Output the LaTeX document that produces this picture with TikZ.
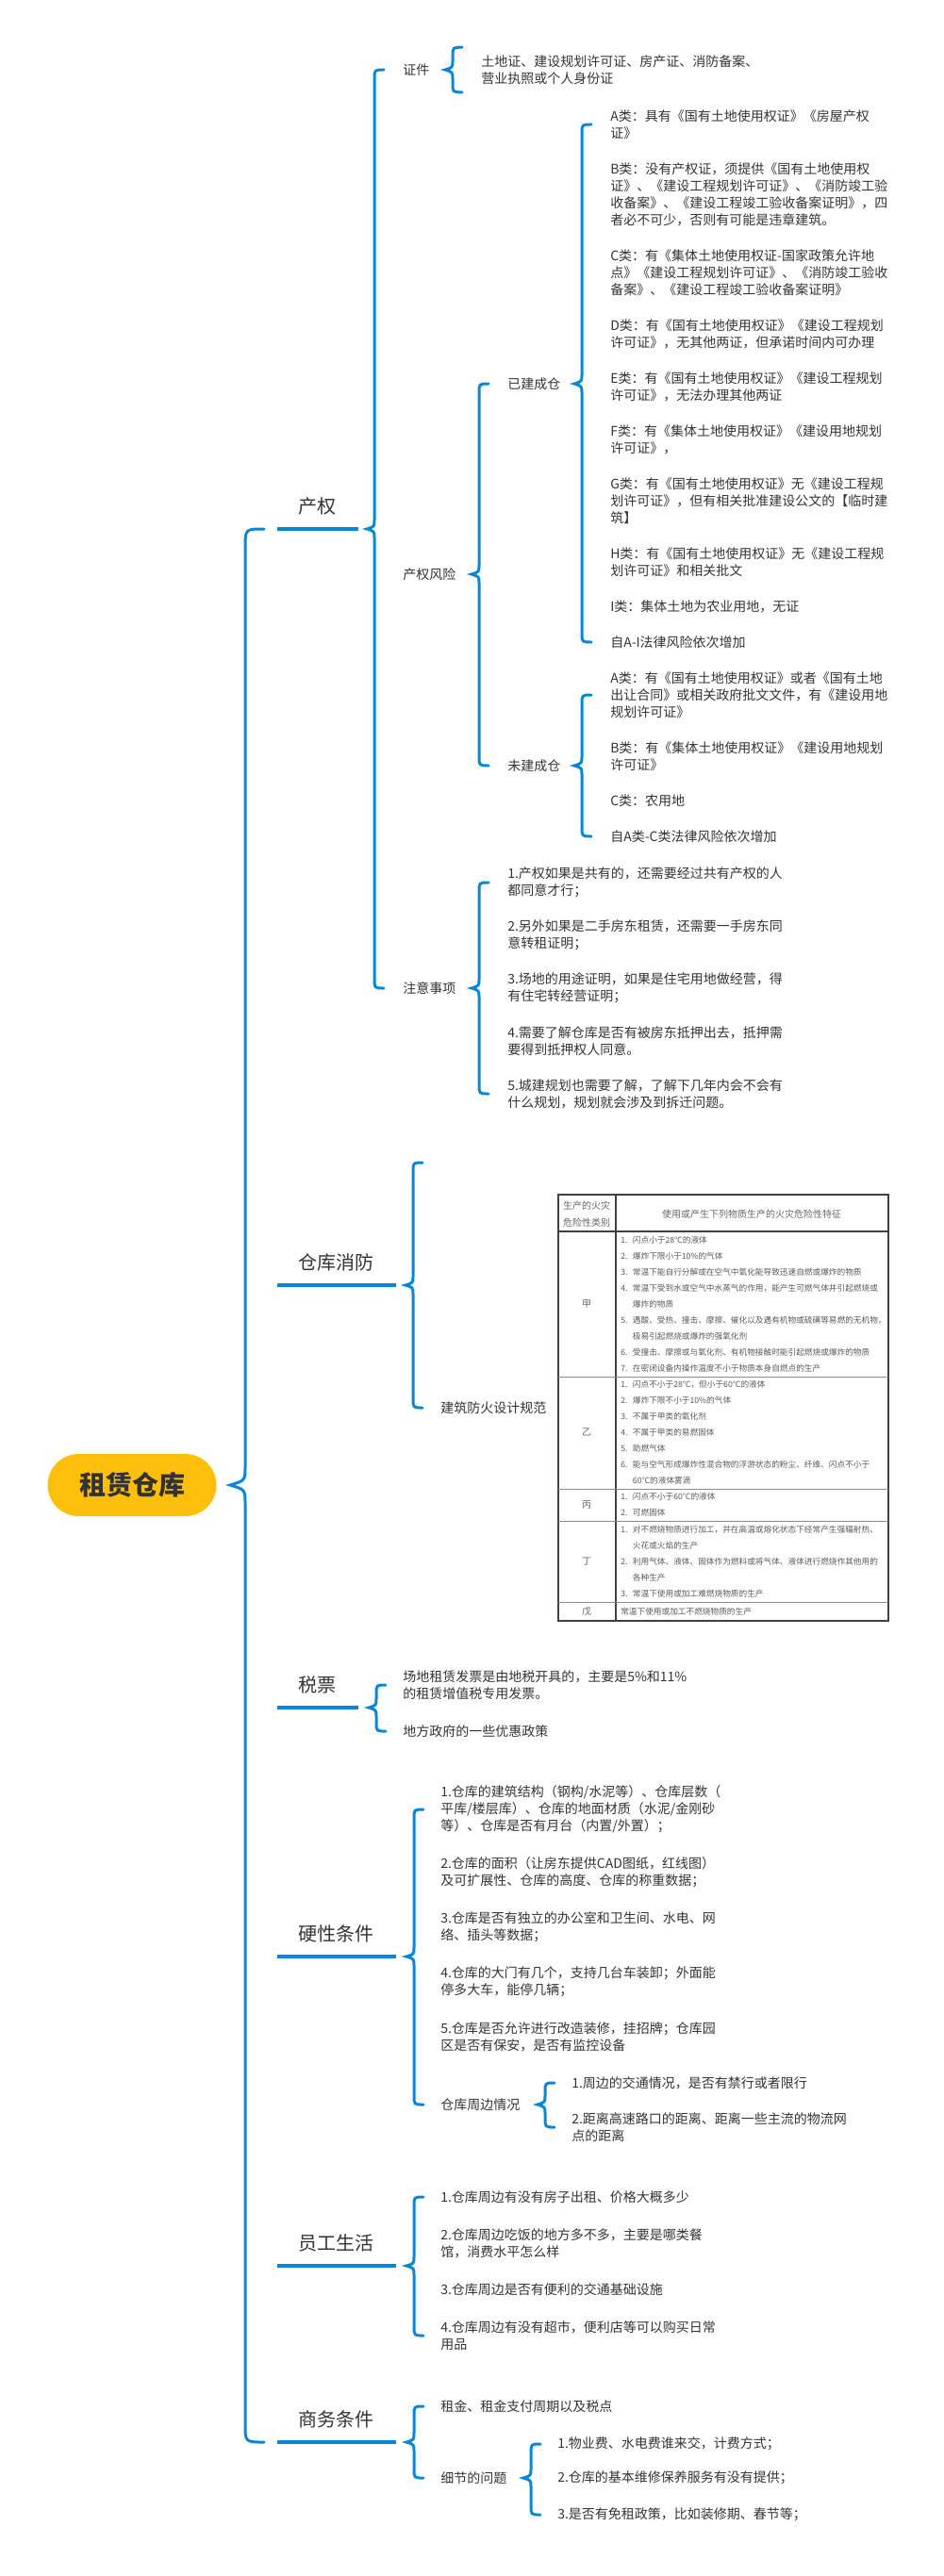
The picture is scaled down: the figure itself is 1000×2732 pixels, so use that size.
\documentclass[tikz,border=0pt]{standalone}
\usepackage{fontspec}
\setmainfont{Noto Sans CJK SC}
\usetikzlibrary{calc}
\definecolor{mmblue}{RGB}{10,134,214}
\definecolor{mmgold}{RGB}{253,191,12}
\definecolor{mmtext}{RGB}{51,51,51}

% 花括号：#2 竖线位置，#3 上端，#4 尖角，#5 下端
\newcommand{\mmbrace}[5][6pt]{%
  \draw[brace] let \p1=(#2), \p2=(#3), \p3=(#4), \p4=(#5) in
    ({\x1+1.25*#1},\y2) .. controls (\x1,\y2) .. (\x1,{\y2-1.25*#1})
    -- (\x1,{\y3+1.25*#1}) .. controls (\x1,{\y3+0.3*#1}) .. ({\x1-#1},\y3)
    .. controls (\x1,{\y3-0.3*#1}) .. (\x1,{\y3-1.25*#1})
    -- (\x1,{\y4+1.25*#1}) .. controls (\x1,\y4) .. ({\x1+1.25*#1},\y4);}
\newcommand{\tabnum}[1]{\makebox[9.5pt][l]{#1.}}

\begin{document}
\begin{tikzpicture}[
  x=0.75pt, y=-0.75pt,
  font=\fontsize{10.5pt}{13.5pt}\selectfont,
  root/.style={rounded corners=24.75pt, fill=mmgold, text=mmtext, minimum width=134.25pt, minimum height=49.5pt, inner sep=0pt, font=\fontsize{21pt}{25pt}\selectfont\bfseries},
  branch/.style={anchor=south west, inner xsep=0pt, inner ysep=10.5pt, text height=13.2pt, text depth=1.8pt, text=mmtext, font=\fontsize{15pt}{18pt}\selectfont},
  branchS/.style={branch, minimum width=64pt},
  branchL/.style={branch, minimum width=94pt},
  topic/.style={anchor=west, inner sep=0pt, align=left, text=mmtext},
  brace/.style={draw=mmblue, line width=2.25pt, line cap=round},
  uline/.style={draw=mmblue, line width=2.6pt},
  tabframe/.style={draw=black!75, line width=0.8pt},
  tabrule/.style={draw=black!45, line width=0.6pt},
  tabhead/.style={inner sep=0pt, align=center, text=black!60, font=\fontsize{7.5pt}{13.5pt}\selectfont},
  tabcell/.style={anchor=west, inner sep=0pt, align=left, text=black!65, font=\fontsize{6.5pt}{12.75pt}\selectfont}
]
\useasboundingbox (0,0) rectangle (1000,2732);

% 中心主题
\node[root] (root) at (140,1575) {租赁仓库};

% 一级分支（下划线）
\node[branchS] (prop)  at (294,561)  {产权};
\node[branchL] (fire)  at (294,1363) {仓库消防};
\node[branchS] (tax)   at (294,1811) {税票};
\node[branchL] (hard)  at (294,2075) {硬性条件};
\node[branchL] (staff) at (294,2403) {员工生活};
\node[branchL] (biz)   at (294,2590) {商务条件};
\foreach \b in {prop,fire,tax,hard,staff,biz}
  \draw[uline] (\b.south west) -- (\b.south east);

% 产权
\node[topic] (cert) at (427,74)   {证件};
\node[topic] (risk) at (427,609)  {产权风险};
\node[topic] (note) at (427,1048) {注意事项};
\node[topic, inner ysep=6pt] (certtxt) at (510,74) {土地证、建设规划许可证、房产证、消防备案、\\营业执照或个人身份证};
\node[topic] (built)   at (538,407) {已建成仓};
\node[topic] (unbuilt) at (538,812) {未建成仓};

% 已建成仓
\node[topic] (bA) at (647,132) {A类：具有《国有土地使用权证》《房屋产权\\证》};
\node[topic] (bB) at (647,206) {B类：没有产权证，须提供《国有土地使用权\\证》、《建设工程规划许可证》、《消防竣工验\\收备案》、《建设工程竣工验收备案证明》，四\\者必不可少，否则有可能是违章建筑。};
\node[topic] (bC) at (647,289) {C类：有《集体土地使用权证-国家政策允许地\\点》《建设工程规划许可证》、《消防竣工验收\\备案》、《建设工程竣工验收备案证明》};
\node[topic] (bD) at (647,354) {D类：有《国有土地使用权证》《建设工程规划\\许可证》，无其他两证，但承诺时间内可办理};
\node[topic] (bE) at (647,410) {E类：有《国有土地使用权证》《建设工程规划\\许可证》，无法办理其他两证};
\node[topic] (bF) at (647,466) {F类：有《集体土地使用权证》《建设用地规划\\许可证》，};
\node[topic] (bG) at (647,531) {G类：有《国有土地使用权证》无《建设工程规\\划许可证》，但有相关批准建设公文的【临时建\\筑】};
\node[topic] (bH) at (647,596) {H类：有《国有土地使用权证》无《建设工程规\\划许可证》和相关批文};
\node[topic] (bI) at (647,643) {I类：集体土地为农业用地，无证};
\node[topic] (bZ) at (647,681) {自A-I法律风险依次增加};

% 未建成仓
\node[topic] (uA) at (647,737) {A类：有《国有土地使用权证》或者《国有土地\\出让合同》或相关政府批文文件，有《建设用地\\规划许可证》};
\node[topic] (uB) at (647,802) {B类：有《集体土地使用权证》《建设用地规划\\许可证》};
\node[topic] (uC) at (647,849) {C类：农用地};
\node[topic] (uZ) at (647,887) {自A类-C类法律风险依次增加};

% 注意事项
\node[topic] (n1) at (538,936)  {1.产权如果是共有的，还需要经过共有产权的人\\都同意才行；};
\node[topic] (n2) at (538,992)  {2.另外如果是二手房东租赁，还需要一手房东同\\意转租证明；};
\node[topic] (n3) at (538,1048) {3.场地的用途证明，如果是住宅用地做经营，得\\有住宅转经营证明；};
\node[topic] (n4) at (538,1104) {4.需要了解仓库是否有被房东抵押出去，抵押需\\要得到抵押权人同意。};
\node[topic] (n5) at (538,1160) {5.城建规划也需要了解，了解下几年内会不会有\\什么规划，规划就会涉及到拆迁问题。};

% 仓库消防
\coordinate (firetop) at (438,1233);
\node[topic] (firespec) at (467,1493) {建筑防火设计规范};

% 防火规范表
\draw[tabframe] (592,1267) rectangle (942,1719);
\draw[tabframe] (653,1267) -- (653,1719);
\draw[tabframe] (592,1306) -- (942,1306);
\foreach \r in {1460,1579,1613,1699}
  \draw[tabrule] (592,\r) -- (942,\r);
\node[tabhead] (thA) at (622,1288) {生产的火灾\\危险性类别};
\node[tabhead] (thB) at (797,1288) {使用或产生下列物质生产的火灾危险性特征};
\node[tabhead] (rJia)  at (622,1383) {甲};
\node[tabhead] (rYi)   at (622,1519) {乙};
\node[tabhead] (rBing) at (622,1596) {丙};
\node[tabhead] (rDing) at (622,1656) {丁};
\node[tabhead] (rWu)   at (622,1709) {戊};
\node[tabcell] (cJia) at (658,1383) {\tabnum{1}闪点小于28℃的液体\\
  \tabnum{2}爆炸下限小于10\%的气体\\
  \tabnum{3}常温下能自行分解或在空气中氧化能导致迅速自燃或爆炸的物质\\
  \tabnum{4}常温下受到水或空气中水蒸气的作用，能产生可燃气体并引起燃烧或\\
  \hspace*{9.5pt}爆炸的物质\\
  \tabnum{5}遇酸、受热、撞击、摩擦、催化以及遇有机物或硫磺等易燃的无机物，\\
  \hspace*{9.5pt}极易引起燃烧或爆炸的强氧化剂\\
  \tabnum{6}受撞击、摩擦或与氧化剂、有机物接触时能引起燃烧或爆炸的物质\\
  \tabnum{7}在密闭设备内操作温度不小于物质本身自燃点的生产};
\node[tabcell] (cYi) at (658,1519) {\tabnum{1}闪点不小于28℃，但小于60℃的液体\\
  \tabnum{2}爆炸下限不小于10\%的气体\\
  \tabnum{3}不属于甲类的氧化剂\\
  \tabnum{4}不属于甲类的易燃固体\\
  \tabnum{5}助燃气体\\
  \tabnum{6}能与空气形成爆炸性混合物的浮游状态的粉尘、纤维、闪点不小于\\
  \hspace*{9.5pt}60℃的液体雾滴};
\node[tabcell] (cBing) at (658,1596) {\tabnum{1}闪点不小于60℃的液体\\
  \tabnum{2}可燃固体};
\node[tabcell] (cDing) at (658,1656) {\tabnum{1}对不燃烧物质进行加工，并在高温或熔化状态下经常产生强辐射热、\\
  \hspace*{9.5pt}火花或火焰的生产\\
  \tabnum{2}利用气体、液体、固体作为燃料或将气体、液体进行燃烧作其他用的\\
  \hspace*{9.5pt}各种生产\\
  \tabnum{3}常温下使用或加工难燃烧物质的生产};
\node[tabcell] (cWu) at (658,1709) {常温下使用或加工不燃烧物质的生产};

% 税票
\node[topic] (t1) at (427,1787) {场地租赁发票是由地税开具的，主要是5\%和11\%\\的租赁增值税专用发票。};
\node[topic] (t2) at (427,1836) {地方政府的一些优惠政策};

% 硬性条件
\node[topic] (h1) at (467,1919) {1.仓库的建筑结构（钢构/水泥等）、仓库层数（\\平库/楼层库）、仓库的地面材质（水泥/金刚砂\\等）、仓库是否有月台（内置/外置）；};
\node[topic] (h2) at (467,1986) {2.仓库的面积（让房东提供CAD图纸，红线图）\\及可扩展性、仓库的高度、仓库的称重数据；};
\node[topic] (h3) at (467,2044) {3.仓库是否有独立的办公室和卫生间、水电、网\\络、插头等数据；};
\node[topic] (h4) at (467,2102) {4.仓库的大门有几个，支持几台车装卸；外面能\\停多大车，能停几辆；};
\node[topic] (h5) at (467,2160) {5.仓库是否允许进行改造装修，挂招牌；仓库园\\区是否有保安，是否有监控设备};
\node[topic] (h6) at (467,2232) {仓库周边情况};
\node[topic] (s1) at (606,2209) {1.周边的交通情况，是否有禁行或者限行};
\node[topic] (s2) at (606,2256) {2.距离高速路口的距离、距离一些主流的物流网\\点的距离};

% 员工生活
\node[topic] (e1) at (467,2330) {1.仓库周边有没有房子出租、价格大概多少};
\node[topic] (e2) at (467,2379) {2.仓库周边吃饭的地方多不多，主要是哪类餐\\馆，消费水平怎么样};
\node[topic] (e3) at (467,2428) {3.仓库周边是否有便利的交通基础设施};
\node[topic] (e4) at (467,2477) {4.仓库周边有没有超市，便利店等可以购买日常\\用品};

% 商务条件
\node[topic] (c1) at (467,2552) {租金、租金支付周期以及税点};
\node[topic] (c2) at (467,2628) {细节的问题};
\node[topic] (d1) at (591,2592) {1.物业费、水电费谁来交，计费方式；};
\node[topic] (d2) at (591,2628) {2.仓库的基本维修保养服务有没有提供；};
\node[topic] (d3) at (591,2667) {3.是否有免租政策，比如装修期、春节等；};

% 花括号
\mmbrace[12pt]{$(prop.south west)+(-34,0)$}{prop.south west}{root.east}{biz.south west}
\mmbrace{$(cert.west)+(-30,0)$}{cert}{prop.south}{note}
\mmbrace{$(certtxt.west)+(-30,0)$}{certtxt.north}{cert}{certtxt.south}
\mmbrace{$(built.west)+(-30,0)$}{built}{risk}{unbuilt}
\mmbrace{$(bA.west)+(-30,0)$}{bA}{built}{bZ}
\mmbrace{$(uA.west)+(-30,0)$}{uA}{unbuilt}{uZ}
\mmbrace{$(n1.west)+(-30,0)$}{n1}{note}{n5}
\mmbrace{$(firespec.west)+(-29,0)$}{firetop}{fire.south}{firespec}
\mmbrace{$(t1.west)+(-28,0)$}{t1}{tax.south}{t2}
\mmbrace{$(h1.west)+(-28,0)$}{h1}{hard.south}{h6}
\mmbrace{$(s1.west)+(-28,0)$}{s1}{h6}{s2}
\mmbrace{$(e1.west)+(-28,0)$}{e1}{staff.south}{e4}
\mmbrace{$(c1.west)+(-28,0)$}{c1}{biz.south}{c2}
\mmbrace{$(d1.west)+(-28,0)$}{d1}{c2}{d3}
\end{tikzpicture}
\end{document}
